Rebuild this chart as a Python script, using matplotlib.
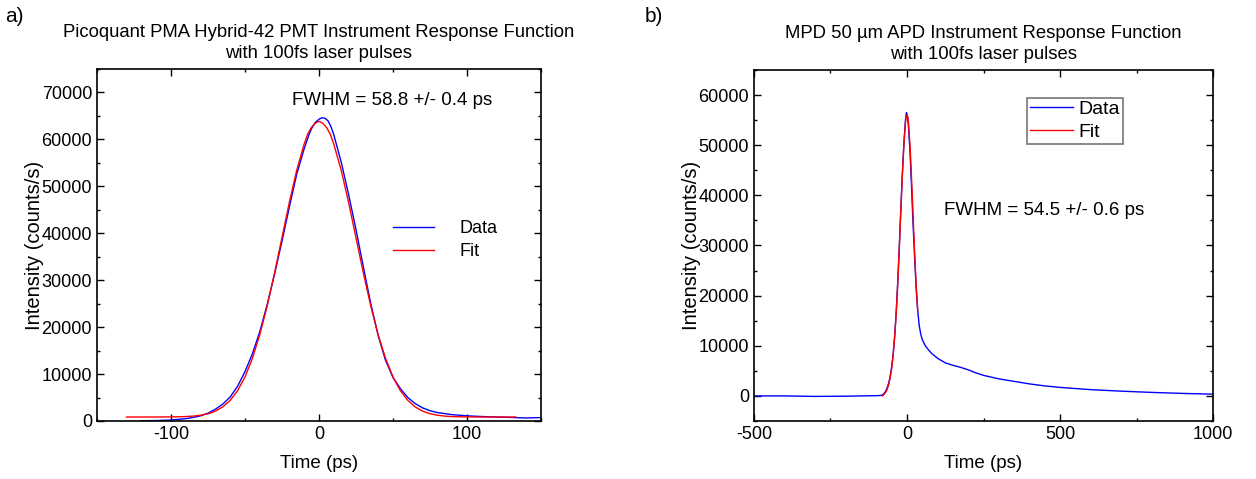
import matplotlib.pyplot as plt
from matplotlib.ticker import MultipleLocator

plt.rcParams['font.family'] = ['Liberation Sans', 'DejaVu Sans']
plt.rcParams['axes.unicode_minus'] = False

# panel a: Hybrid PMT
t_a_data = [-120, -110, -100, -90, -85, -80, -75, -70, -65, -60, -55, -50, -45, -40,
            -35, -30, -25, -20, -15, -10, -7, -5, -2.5, 0, 2, 4, 6, 8, 10, 15, 20, 25, 30, 35, 40,
            45, 50, 55, 60, 65, 70, 75, 80, 90, 100, 110, 120, 130, 140, 150]
i_a_data = [50, 100, 200, 500, 750, 1100, 1650, 2500, 3600, 5100, 7400, 10500, 14300, 19000,
            24800, 31300, 38300, 45600, 52600, 58000, 60800, 62300, 63600, 64300, 64600, 64500, 64000, 62800, 61000, 55200, 48300, 40800, 32800, 25000, 18200,
            12900, 9300, 6900, 5000, 3700, 2800, 2200, 1800, 1350, 1100, 950, 850, 750, 650, 720]

t_a_fit = [-130, -120, -110, -100, -95, -90, -85, -80, -75, -70, -65, -60, -55, -50,
           -45, -40, -35, -30, -25, -20, -15, -10, -7.5, -5, -2.5, 0, 2.5, 5, 7.5, 10, 15, 20, 25, 30,
           35, 40, 45, 50, 55, 60, 65, 70, 75, 80, 85, 90, 95, 100, 110, 120, 133]
i_a_fit = [850, 850, 850, 870, 895, 945, 1040, 1230, 1550, 2100, 3000, 4390, 6450, 9380,
           13330, 18370, 24490, 31530, 39060, 46600, 53450, 59000, 61200, 62600, 63450, 63850, 63450, 62600, 61200, 59000, 53450, 46600, 39060, 31530,
           24490, 18370, 13330, 9380, 6450, 4390, 3000, 2100, 1550, 1230, 1040, 945, 895, 870, 850, 850, 850]

# panel b: MPD APD
t_b_data = [-500, -400, -300, -200, -100, -85, -80, -75, -70, -65, -60, -55, -50, -45,
            -40, -35, -30, -25, -20, -15, -10, -5, -2, 0, 2.5, 5, 10, 15, 20, 25, 30, 35,
            40, 45, 50, 60, 70, 80, 100, 125, 150, 175, 200, 225, 250, 300, 350, 400,
            450, 500, 600, 700, 800, 900, 1000]
i_b_data = [0, 0, -100, -50, 50, 100, 200, 500, 900, 1600, 2500, 3900, 5800, 8500,
            12200, 17000, 23000, 30000, 37500, 44500, 50500, 55000, 56500, 56200, 55300, 53500, 48500, 41500, 34000, 27500, 21500, 17000,
            14000, 12300, 11200, 10000, 9200, 8500, 7500, 6600, 6100, 5700, 5200, 4600, 4100, 3400, 2900, 2400,
            2000, 1700, 1250, 950, 700, 500, 350]

t_b_fit = [-80, -75, -70, -65, -60, -55, -50, -45, -40, -35, -30, -25, -20, -15,
           -10, -5, -2.5, 0, 2.5, 5, 10, 15, 20, 25, 30, 35]
i_b_fit = [0, 300, 700, 1300, 2200, 3600, 5500, 8200, 12000, 16700, 22700, 29700, 37200, 44300,
           50300, 54500, 55700, 56000, 55700, 54300, 49800, 43200, 35800, 28500, 22000, 17000]


def style_axes(ax, xmaj, xmin, ymaj, ymin, ylab_x):
    ax.xaxis.set_major_locator(MultipleLocator(xmaj))
    ax.xaxis.set_minor_locator(MultipleLocator(xmin))
    ax.yaxis.set_major_locator(MultipleLocator(ymaj))
    ax.yaxis.set_minor_locator(MultipleLocator(ymin))
    ax.tick_params(which='both', direction='in', top=True, right=True, labelsize=13, pad=3.5)
    ax.tick_params(which='major', length=5, width=1)
    ax.tick_params(which='minor', length=2.5, width=1)
    for s in ax.spines.values():
        s.set_linewidth(1.2)
    ax.set_xlabel("Time (ps)", fontsize=13.5, labelpad=9)
    ax.set_ylabel("Intensity (counts/s)", fontsize=14.5)
    ax.yaxis.set_label_coords(ylab_x, 0.5)


fig = plt.figure(figsize=(12.56, 4.79), dpi=100)

ax1 = fig.add_axes([0.0772, 0.1211, 0.3535, 0.7349])
ax1.plot(t_a_data, i_a_data, color='#0000ff', lw=1, label="Data")
ax1.plot(t_a_fit, i_a_fit, color='#ff0000', lw=1, label="Fit")
ax1.set_xlim(-150, 150)
ax1.set_ylim(0, 75000)
style_axes(ax1, 100, 50, 10000, 5000, -0.119)
ax1.set_title("Picoquant PMA Hybrid-42 PMT Instrument Response Function\nwith 100fs laser pulses",
              fontsize=13.3, pad=8, linespacing=1.3)
ax1.text(-18, 68300, "FWHM = 58.8 +/- 0.4 ps", fontsize=13.5, va='center')
ax1.legend(loc='center left', bbox_to_anchor=(0.63, 0.514), frameon=False, fontsize=13,
           handlelength=2.3, handletextpad=1.4, labelspacing=0.35)

ax2 = fig.add_axes([0.6003, 0.1211, 0.3655, 0.7328])
ax2.plot(t_b_data, i_b_data, color='#0000ff', lw=1, label="Data")
ax2.plot(t_b_fit, i_b_fit, color='#ff0000', lw=1, label="Fit")
ax2.set_xlim(-500, 1000)
ax2.set_ylim(-5000, 65000)
style_axes(ax2, 500, 250, 10000, 5000, -0.1155)
ax2.set_title("MPD 50 \u00b5m APD Instrument Response Function\nwith 100fs laser pulses",
              fontsize=13.3, pad=8, linespacing=1.3)
ax2.text(122, 37000, "FWHM = 54.5 +/- 0.6 ps", fontsize=13.5, va='center')
leg = ax2.legend(loc='upper left', bbox_to_anchor=(0.595, 0.92), frameon=True, fancybox=False,
                 fontsize=14, handlelength=2.2, handletextpad=0.3, labelspacing=0.3,
                 borderpad=0.15, borderaxespad=0, handleheight=0.6)
leg.get_frame().set_edgecolor('#555555')
leg.get_frame().set_linewidth(1.2)

fig.text(0.004, 0.955, "a)", fontsize=15)
fig.text(0.513, 0.955, "b)", fontsize=15)

plt.savefig("out.png", dpi=100)
